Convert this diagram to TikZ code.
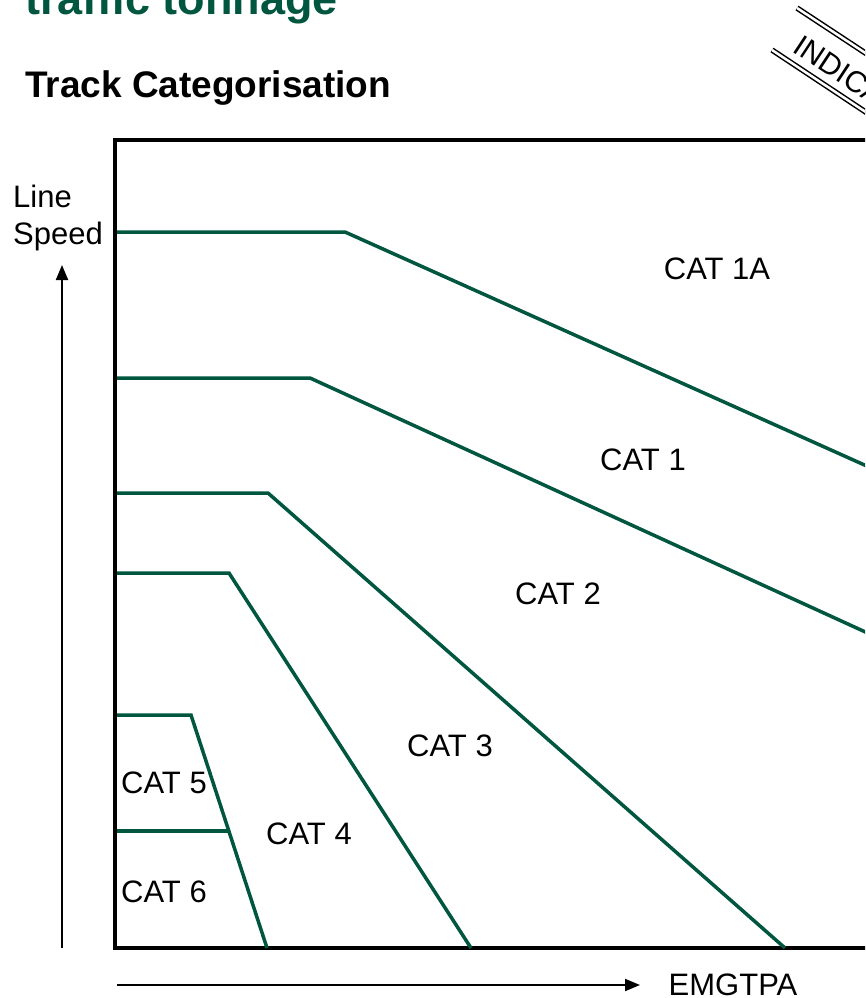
\documentclass[tikz,border=0pt]{standalone}
\usepackage{fontspec}
\setmainfont{Liberation Sans}
\usetikzlibrary{arrows.meta}
\definecolor{catgreen}{RGB}{0,86,62}

\begin{document}
\begin{tikzpicture}[x=1pt,y=-1pt,
        every node/.style={inner sep=0pt,font=\fontsize{31}{37}\selectfont},
        catline/.style={catgreen,line width=3.5pt},
        axis/.style={line width=2pt,-{Triangle[length=15pt,width=12pt]}},
        stampline/.style={double,double distance=2.5pt,line width=1.5pt}]
    \useasboundingbox (0,0) rectangle (865,998);
    \clip (0,0) rectangle (865,998);

    \node[anchor=base west,text=catgreen,font=\fontsize{45}{54}\selectfont\bfseries] (title) at (25,15) {traffic tonnage};
    \node[anchor=base west,font=\fontsize{37}{44}\selectfont\bfseries] (sub) at (25,97) {Track Categorisation};

    % indicative stamp
    \draw[stampline] (797,8) -- (920,89);
    \draw[stampline] (772,50) -- (920,148);
    \node[anchor=base west,rotate=-33.5,font=\fontsize{30}{36}\selectfont] (stamp) at (791,51) {INDICATIVE};

    % frame
    \draw[line width=4pt] (900,140) -| (115,948) -- (900,948);

    % category boundaries
    \draw[catline] (117,232) -- (345,232) -- (1025,537);
    \draw[catline] (117,378) -- (310,378) -- (1025,705);
    \draw[catline] (117,493) -- (268,493) -- (785,948);
    \draw[catline] (117,573) -- (229,573) -- (471,948);
    \draw[catline] (117,715) -- (191,715) -- (267,948);
    \draw[catline] (117,831) -- (229,831);

    \node[anchor=base] (cat1a) at (717,279) {CAT 1A};
    \node[anchor=base] (cat1) at (643,470) {CAT 1};
    \node[anchor=base] (cat2) at (558,604) {CAT 2};
    \node[anchor=base] (cat3) at (450,756) {CAT 3};
    \node[anchor=base] (cat4) at (309,844) {CAT 4};
    \node[anchor=base] (cat5) at (164,793) {CAT 5};
    \node[anchor=base] (cat6) at (164,902) {CAT 6};

    % axes
    \node[anchor=north west,align=left] (speed) at (13,185) {Line\\Speed};
    \node[anchor=base] (tonnage) at (733,995) {EMGTPA};
    \coordinate (yfoot) at (62,948);
    \coordinate (yhead) at (62,265);
    \coordinate (xfoot) at (117,985);
    \coordinate (xhead) at (640,985);
    \draw[axis] (yfoot) -- (yhead);
    \draw[axis] (xfoot) -- (xhead);
\end{tikzpicture}
\end{document}
